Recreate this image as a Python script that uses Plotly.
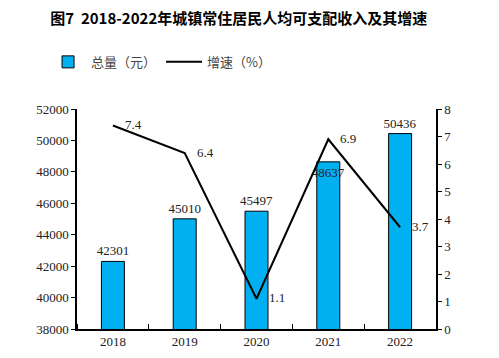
import plotly.graph_objects as go

years = [2018, 2019, 2020, 2021, 2022]
income = [42301, 45010, 45497, 48637, 50436]
growth = [7.4, 6.4, 1.1, 6.9, 3.7]
bar_text_pos = ["outside", "outside", "outside", "inside", "outside"]

serif = "Liberation Serif"

fig = go.Figure()
fig.add_trace(go.Bar(
    x=years, y=income, name="总量（元）",
    marker=dict(color="#00B0F0", line=dict(color="#000000", width=1)),
    width=0.32,
    text=[str(v) for v in income], textposition=bar_text_pos, textangle=0,
    insidetextanchor="end", constraintext="none",
    textfont=dict(family=serif, size=13, color="#222222"),
    cliponaxis=False,
))
fig.add_trace(go.Scatter(
    x=years, y=growth, name="增速（%）", yaxis="y2", mode="lines",
    line=dict(color="#000000", width=2),
))
for yr, g in zip(years, growth):
    fig.add_annotation(x=yr, y=g, xref="x", yref="y2", text=f"{g}", showarrow=False,
                       xanchor="left", xshift=10, yshift=1,
                       font=dict(family=serif, size=13, color="#222222"))

fig.update_layout(
    width=491, height=350,
    margin=dict(l=69, r=63, t=101, b=29, autoexpand=False),
    plot_bgcolor="white", paper_bgcolor="white",
    title=dict(text="<b>图7  2018-2022年城镇常住居民人均可支配收入及其增速</b>",
               x=0.47, xanchor="center", y=0.968, yanchor="middle",
               font=dict(family="Noto Sans CJK SC", size=15, color="#000000")),
    showlegend=True,
    legend=dict(orientation="h", x=-0.089, y=1.214, xanchor="left", yanchor="middle",
                font=dict(family="Noto Sans CJK SC", size=13, color="#444444"),
                itemwidth=36, bgcolor="rgba(0,0,0,0)"),
    xaxis=dict(range=[2017.5, 2022.5], tickmode="array", tickvals=years,
               ticktext=[str(y) for y in years], ticks="",
               showline=True, linecolor="#000000", linewidth=1.5,
               minor=dict(tick0=2017.5, dtick=1, ticks="inside", ticklen=5,
                          tickcolor="#000000", showgrid=False),
               tickfont=dict(family=serif, size=13, color="#222222"),
               showgrid=False, zeroline=False),
    yaxis=dict(range=[38000, 52000], dtick=2000, showline=True, linecolor="#000000",
               linewidth=1.5, ticks="outside", ticklen=4, tickcolor="#000000",
               tickformat="d",
               tickfont=dict(family=serif, size=13, color="#222222"),
               showgrid=False, zeroline=False),
    yaxis2=dict(range=[0, 8], dtick=1, overlaying="y", side="right", showline=True,
                linecolor="#000000", linewidth=1.5, ticks="outside", ticklen=4,
                tickcolor="#000000", tickfont=dict(family=serif, size=13, color="#222222"),
                showgrid=False, zeroline=False),
)

fig.write_html("out.html")
